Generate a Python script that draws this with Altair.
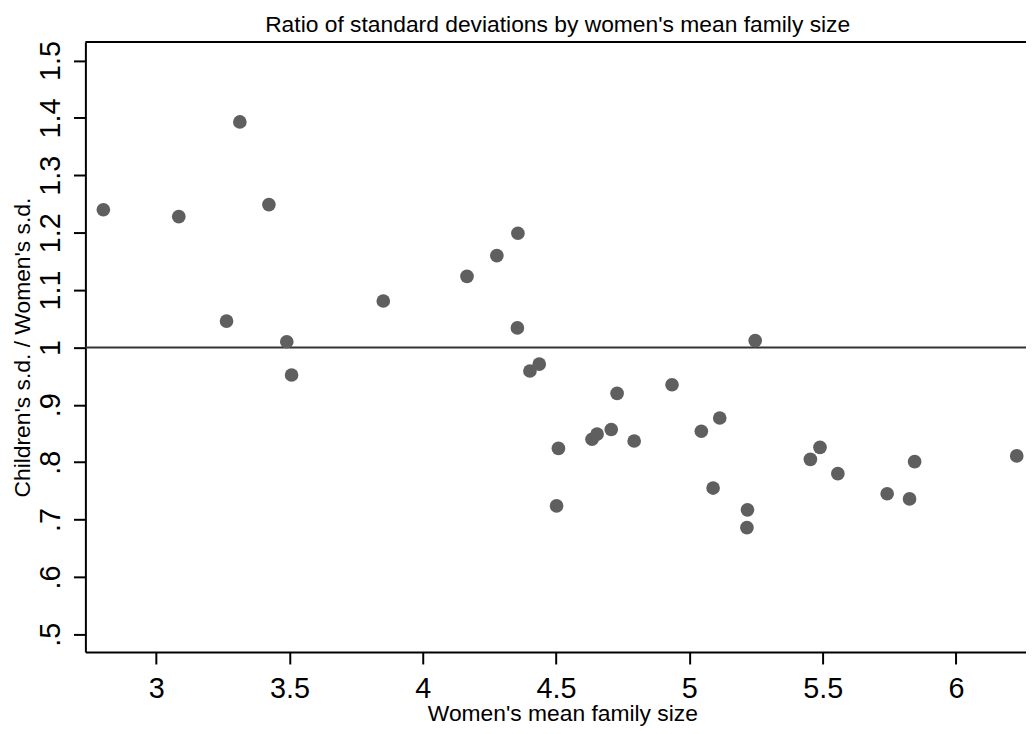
import altair as alt
import pandas as pd

# ---- data ----
family_size = [2.802, 3.085, 3.264, 3.314, 3.423, 3.490, 3.508, 3.852, 4.166, 4.278,
               4.357, 4.355, 4.402, 4.437, 4.502, 4.509, 4.635, 4.654, 4.707, 4.729,
               4.793, 4.935, 5.045, 5.089, 5.114, 5.218, 5.216, 5.247, 5.454, 5.490,
               5.557, 5.742, 5.826, 5.845, 6.228]
sd_ratio = [1.240, 1.228, 1.046, 1.393, 1.249, 1.010, 0.952, 1.081, 1.124, 1.160,
            1.199, 1.034, 0.959, 0.971, 0.724, 0.824, 0.840, 0.849, 0.857, 0.920,
            0.837, 0.935, 0.854, 0.755, 0.877, 0.717, 0.686, 1.012, 0.805, 0.826,
            0.780, 0.745, 0.736, 0.801, 0.811]
x_ticks = [3, 3.5, 4, 4.5, 5, 5.5, 6]
y_ticks = [0.5, 0.6, 0.7, 0.8, 0.9, 1.0, 1.1, 1.2, 1.3, 1.4, 1.5]
reference_ratio = [1.0]

TITLE = "Ratio of standard deviations by women's mean family size"
X_TITLE = "Women's mean family size"
Y_TITLE = "Children's s.d. / Women's s.d."

FONT = "Liberation Sans"
W, H = 948, 614.8
X_DOMAIN = [2.73465, 6.26275]
Y_DOMAIN = [0.46913, 1.53225]

df = pd.DataFrame({"fs": family_size, "ratio": sd_ratio})
ref_df = pd.DataFrame({"ratio": reference_ratio})

x_enc = alt.X(
    "fs:Q",
    scale=alt.Scale(domain=X_DOMAIN, nice=False, zero=False),
    axis=alt.Axis(
        values=x_ticks, format="~g", title=X_TITLE, grid=False,
        labelBaseline="alphabetic", labelPadding=34, labelFontSize=29,
        titleX=480.7, titleY=69, titleBaseline="alphabetic", titleAlign="center",
    ),
)
y_enc = alt.Y(
    "ratio:Q",
    scale=alt.Scale(domain=Y_DOMAIN, nice=False, zero=False),
    axis=alt.Axis(
        values=y_ticks, title=Y_TITLE, grid=False,
        labelExpr="datum.value < 1 ? slice(format(datum.value, '.1f'), 1) : format(datum.value, '~g')",
        labelAngle=270, labelAlign="center", labelBaseline="alphabetic",
        labelPadding=14, labelFontSize=29,
        titleAngle=270, titleX=-56, titleY=H / 2, titleAlign="center",
        titleBaseline="alphabetic",
    ),
)

ref_line = alt.Chart(ref_df).mark_rule(color="#333333", strokeWidth=2).encode(
    y=alt.Y("ratio:Q", scale=alt.Scale(domain=Y_DOMAIN, nice=False, zero=False))
)

points = alt.Chart(df).mark_circle(size=190, color="#5f5f5f", opacity=1).encode(
    x=x_enc, y=y_enc
)

top_border = alt.Chart(pd.DataFrame({"k": [0]})).mark_rule(
    color="#000000", strokeWidth=2
).encode(x=alt.value(0), x2=alt.value(W), y=alt.value(0))

chart = (
    alt.layer(ref_line, points, top_border)
    .properties(
        width=W,
        height=H,
        title=alt.TitleParams(
            TITLE, font=FONT, fontSize=23, fontWeight="normal", color="#000000",
            anchor="middle", frame="group", baseline="alphabetic", offset=-14, dx=2,
        ),
        autosize=alt.AutoSizeParams(type="none"),
        padding={"left": 78, "top": 31.5, "right": 0, "bottom": 74},
    )
    .configure_view(stroke=None)
    .configure_axis(
        domainColor="#000000", domainWidth=2,
        tickColor="#000000", tickWidth=2, tickSize=12,
        labelFont=FONT, labelColor="#000000",
        titleFont=FONT, titleColor="#000000", titleFontSize=23, titleFontWeight="normal",
    )
)

chart.save("out.html", embed_options={"renderer": "svg", "actions": False})
